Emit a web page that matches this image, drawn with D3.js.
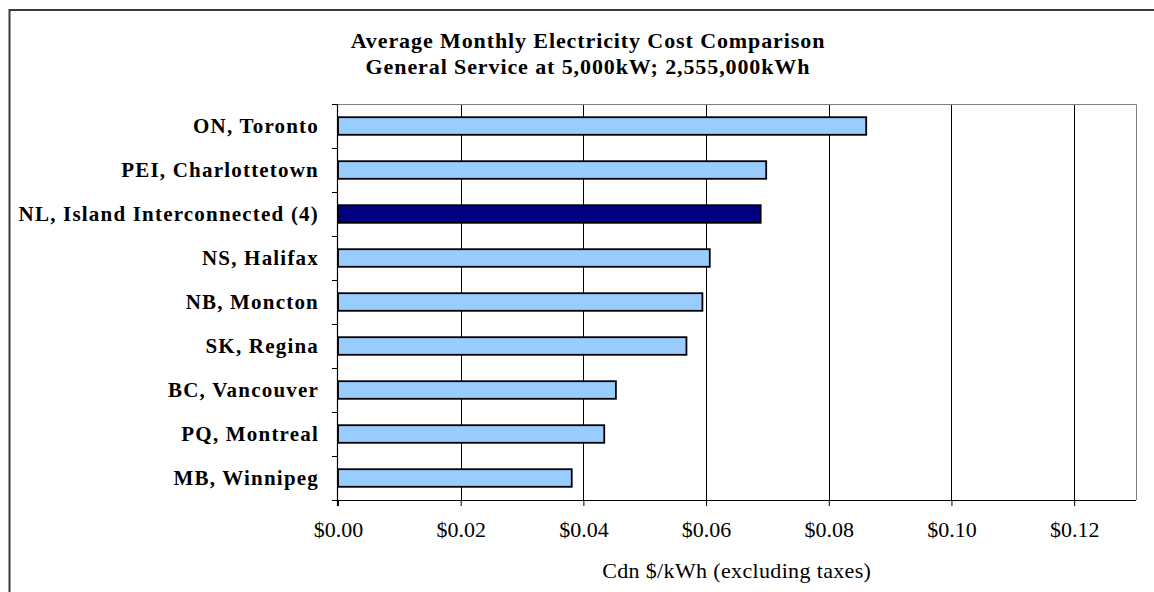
<!DOCTYPE html>
<html>
<head>
<meta charset="utf-8">
<script src="https://cdn.jsdelivr.net/npm/d3@7"></script>
<style>
  html, body { margin: 0; padding: 0; background: #fff; }
  svg { display: block; }
</style>
</head>
<body>
<svg id="chart" width="1154" height="592"></svg>
<script>
// Average monthly general-service electricity cost, Cdn $/kWh
const categories = [
  "ON, Toronto",
  "PEI, Charlottetown",
  "NL, Island Interconnected (4)",
  "NS, Halifax",
  "NB, Moncton",
  "SK, Regina",
  "BC, Vancouver",
  "PQ, Montreal",
  "MB, Winnipeg"
];
const costs = [0.0861, 0.0698, 0.0689, 0.0606, 0.0594, 0.0568, 0.0453, 0.0434, 0.0381];
const highlighted = ["NL, Island Interconnected (4)"];
const xTicks = [0, 0.02, 0.04, 0.06, 0.08, 0.10, 0.12];
const xMax = 0.13;
const titleLines = [
  "Average Monthly Electricity Cost Comparison",
  "General Service at 5,000kW; 2,555,000kWh"
];
const xAxisTitle = "Cdn $/kWh (excluding taxes)";

const svg = d3.select("#chart");
const serif = "'Liberation Serif', 'Times New Roman', serif";

const plot = { left: 338, right: 1135.5, top: 104, bottom: 500 };

const x = d3.scaleLinear().domain([0, xMax]).range([plot.left, plot.right]);
const y = d3.scaleBand().domain(categories).range([plot.top, plot.bottom]).padding(0);
const step = y.step();

// chart area frame
svg.append("rect")
  .attr("x", 9.5).attr("y", 10)
  .attr("width", 1300).attr("height", 800)
  .attr("fill", "#fff")
  .attr("stroke", "#3a3a3a").attr("stroke-width", 2);

// titles
svg.selectAll("text.title")
  .data(titleLines)
  .join("text")
  .attr("class", "title")
  .attr("x", 588)
  .attr("y", (d, i) => 48 + i * 26)
  .attr("text-anchor", "middle")
  .attr("font-family", serif)
  .attr("font-weight", "bold")
  .attr("font-size", 22)
  .attr("letter-spacing", 0.9)
  .attr("fill", "#000")
  .text(d => d);

// plot frame: top and right edges
svg.append("path")
  .attr("d", `M${plot.left},${plot.top + 0.5}H${Math.round(plot.right) + 0.5}V${plot.bottom}`)
  .attr("fill", "none")
  .attr("stroke", "#808080")
  .attr("stroke-width", 1);

// vertical gridlines
svg.append("g")
  .selectAll("line")
  .data(xTicks.filter(t => t > 0))
  .join("line")
  .attr("x1", d => Math.round(x(d)) + 0.5)
  .attr("x2", d => Math.round(x(d)) + 0.5)
  .attr("y1", plot.top + 1)
  .attr("y2", plot.bottom)
  .attr("stroke", "#000")
  .attr("stroke-width", 1);

// bars
svg.append("g")
  .selectAll("rect")
  .data(categories.map((c, i) => ({ c, v: costs[i] })))
  .join("rect")
  .attr("x", x(0))
  .attr("y", d => y(d.c) + step * 0.3)
  .attr("width", d => x(d.v) - x(0))
  .attr("height", step * 0.4)
  .attr("fill", d => highlighted.includes(d.c) ? "#000080" : "#99ccff")
  .attr("stroke", "#000")
  .attr("stroke-width", 1.8);

// left axis with boundary ticks
const yAxis = svg.append("g");
yAxis.append("line")
  .attr("x1", plot.left - 0.5).attr("x2", plot.left - 0.5)
  .attr("y1", plot.top).attr("y2", plot.bottom + 6)
  .attr("stroke", "#000").attr("stroke-width", 1.2);
yAxis.selectAll("line.tick")
  .data(d3.range(categories.length + 1))
  .join("line")
  .attr("class", "tick")
  .attr("x1", plot.left - 6).attr("x2", plot.left)
  .attr("y1", i => Math.round(plot.top + i * step) + 0.5)
  .attr("y2", i => Math.round(plot.top + i * step) + 0.5)
  .attr("stroke", "#000").attr("stroke-width", 1);

yAxis.selectAll("text")
  .data(categories)
  .join("text")
  .attr("x", 319)
  .attr("y", d => y(d) + step / 2 + 7)
  .attr("text-anchor", "end")
  .attr("font-family", serif)
  .attr("font-weight", "bold")
  .attr("font-size", 21)
  .attr("letter-spacing", 1.2)
  .attr("fill", "#000")
  .text(d => d);

// bottom axis
const xAxis = d3.axisBottom(x)
  .tickValues(xTicks)
  .tickSize(6)
  .tickFormat(d3.format("$.2f"));

const gx = svg.append("g")
  .attr("transform", `translate(0,${plot.bottom})`)
  .call(xAxis);
gx.select(".domain")
  .attr("d", `M${plot.left - 6},0.5H${plot.right + 0.5}`)
  .attr("stroke", "#000").attr("stroke-width", 1.2);
gx.selectAll(".tick line").attr("stroke", "#000");
gx.selectAll(".tick text")
  .attr("y", 37).attr("dy", 0)
  .attr("font-family", serif)
  .attr("font-size", 22)
  .attr("fill", "#000");

// x-axis title
svg.append("text")
  .attr("x", (plot.left + plot.right) / 2)
  .attr("y", 578)
  .attr("text-anchor", "middle")
  .attr("font-family", serif)
  .attr("font-size", 22)
  .attr("letter-spacing", 0.35)
  .attr("fill", "#000")
  .text(xAxisTitle);
</script>
</body>
</html>
